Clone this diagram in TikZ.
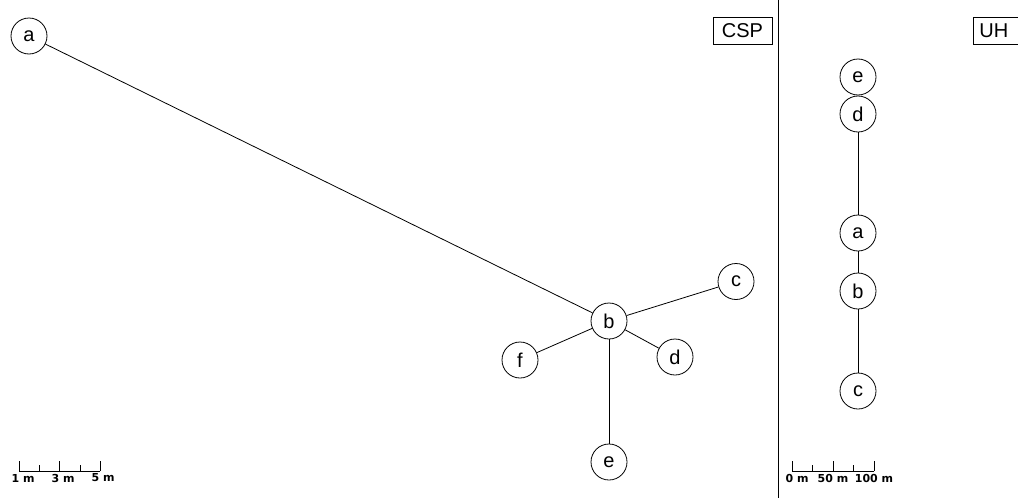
\documentclass[tikz,border=0pt]{standalone}
\usepackage{fontspec}
\setmainfont{Liberation Sans}
\newfontfamily\scalefont{DejaVu Sans}
\begin{document}
\begin{tikzpicture}[x=1pt,y=-1pt,
  vert/.style={draw=black,line width=0.8pt,circle,minimum size=36pt,inner sep=0pt,font=\fontsize{20}{22}\selectfont},
  edge/.style={draw=black,line width=0.8pt},
  tag/.style={draw=black,line width=0.8pt,minimum height=27pt,inner sep=0pt,font=\fontsize{20}{22}\selectfont},
  bar/.style={draw=black,line width=0.8pt},
  barlab/.style={font=\scalefont\bfseries\fontsize{11}{12}\selectfont,inner sep=0pt,anchor=center}]
\useasboundingbox[fill=white] (0,0) rectangle (1018,498);
% left panel: CSP
\node[vert] (a) at (29,36) {a};
\node[vert] (b) at (609,321) {b};
\node[vert] (c) at (736,281.5) {c};
\node[vert] (d) at (675,357) {d};
\node[vert] (f) at (520,360) {f};
\node[vert] (e) at (609,462) {e};
\draw[edge] (a) -- (b);
\draw[edge] (b) -- (c);
\draw[edge] (b) -- (d);
\draw[edge] (b) -- (f);
\draw[edge] (b.south) -- (e.north);
\node[tag,minimum width=59pt] (csp) at (742.5,30.5) {CSP};
% divider
\coordinate (dtop) at (778,0);
\coordinate (dbot) at (778,498);
\draw[edge] (dtop) -- (dbot);
% right panel: UH
\node[vert] (ue) at (858,77) {e};
\node[vert] (ud) at (858,114) {d};
\node[vert] (ua) at (858,233) {a};
\node[vert] (ub) at (858,291) {b};
\node[vert] (uc) at (858,391) {c};
\draw[edge] (ud) -- (ua);
\draw[edge] (ua) -- (ub);
\draw[edge] (ub) -- (uc);
\begin{scope}
\clip (0,0) rectangle (1018,498);
\node[tag,anchor=west,minimum width=60pt,text width=48pt,align=left,inner xsep=6pt] (uh) at (973,30.5) {UH};
\end{scope}
% scale bar left
\draw[bar] (19,471) -- (100,471);
\draw[bar] (19,471) -- (19,461);
\draw[bar] (39.5,471) -- (39.5,465);
\draw[bar] (59.5,471) -- (59.5,461);
\draw[bar] (80,471) -- (80,465);
\draw[bar] (100,471) -- (100,461);
\node[barlab] (l1) at (23,478) {1 m};
\node[barlab] (l3) at (63,478) {3 m};
\node[barlab] (l5) at (103,478) {5 m};
% scale bar right
\draw[bar] (792,471) -- (874,471);
\draw[bar] (792,471) -- (792,461);
\draw[bar] (812,471) -- (812,465);
\draw[bar] (833,471) -- (833,461);
\draw[bar] (853,471) -- (853,465);
\draw[bar] (874,471) -- (874,461);
\node[barlab] (r0) at (797,478) {0 m};
\node[barlab] (r50) at (833,478) {50 m};
\node[barlab] (r100) at (874,478) {100 m};
\end{tikzpicture}
\end{document}
